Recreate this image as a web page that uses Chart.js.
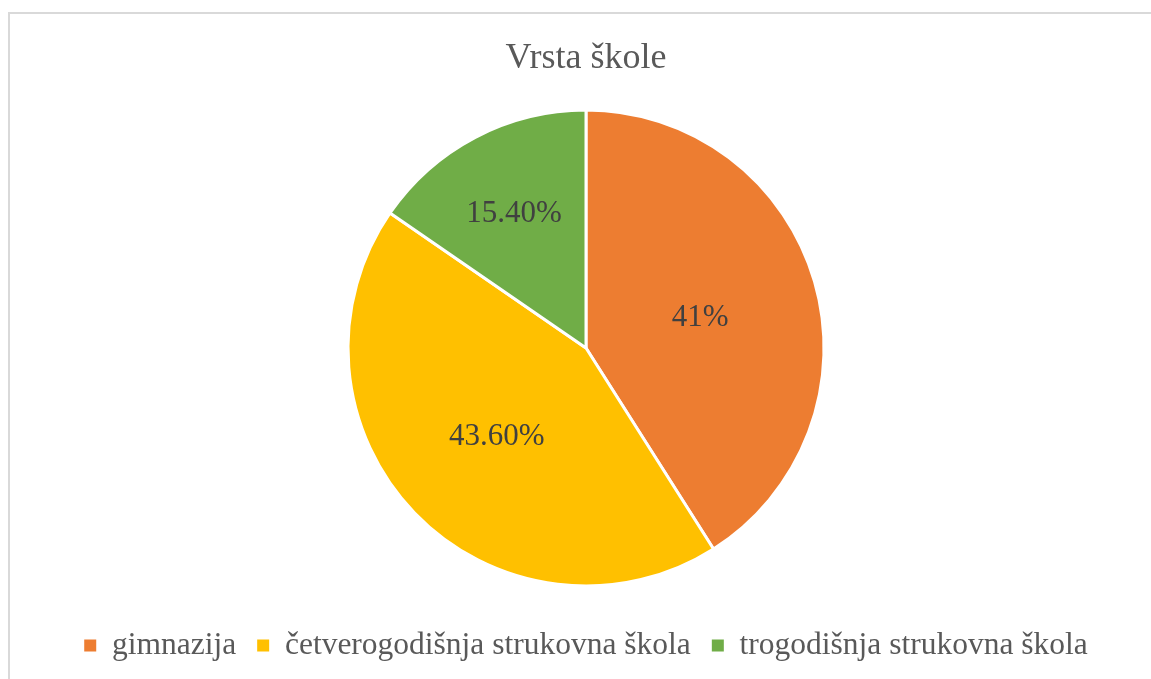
<!DOCTYPE html>
<html>
<head>
<meta charset="utf-8">
<script src="https://cdn.jsdelivr.net/npm/chart.js@4"></script>
<style>
  html, body { margin: 0; padding: 0; background: #ffffff; overflow: hidden; width: 1151px; height: 679px; }
  #box { position: absolute; left: 8px; top: 12px; width: 1152px; height: 700px; border-left: 2px solid #d9d9d9; border-top: 2px solid #d9d9d9; }
  #wrap { position: absolute; left: 0; top: 0; width: 1152px; height: 665px; }
</style>
</head>
<body>
<div id="box"><div id="wrap"><canvas id="c"></canvas></div></div>
<script>
const categories = ["gimnazija", "četverogodišnja strukovna škola", "trogodišnja strukovna škola"];
const values = [41, 43.6, 15.4];
const valueLabels = ["41%", "43.60%", "15.40%"];
const titleText = "Vrsta škole";

const sliceColors = ["#ED7D31", "#FFC000", "#70AD47"];
const labelRadiusFraction = [0.5, 0.52, 0.65];

const dataLabelPlugin = {
  id: 'dataLabels',
  afterDatasetsDraw(chart) {
    const ctx = chart.ctx;
    const meta = chart.getDatasetMeta(0);
    ctx.save();
    ctx.font = '31px "Liberation Serif", "Times New Roman", serif';
    ctx.fillStyle = '#404040';
    ctx.textAlign = 'center';
    ctx.textBaseline = 'middle';
    meta.data.forEach((arc, i) => {
      const p = arc.getProps(['x', 'y', 'startAngle', 'endAngle', 'outerRadius'], true);
      const mid = (p.startAngle + p.endAngle) / 2;
      const r = p.outerRadius * labelRadiusFraction[i];
      ctx.fillText(valueLabels[i], p.x + Math.cos(mid) * r, p.y + Math.sin(mid) * r + 3);
    });
    ctx.restore();
  }
};

new Chart(document.getElementById('c'), {
  type: 'pie',
  data: {
    labels: categories,
    datasets: [{
      data: values,
      backgroundColor: sliceColors,
      borderColor: '#ffffff',
      borderWidth: 3,
      radius: 238
    }]
  },
  options: {
    responsive: true,
    maintainAspectRatio: false,
    animation: false,
    layout: { padding: { top: 0, bottom: 7.75, left: 0, right: 0 } },
    plugins: {
      tooltip: { enabled: false },
      title: {
        display: true,
        text: titleText,
        color: '#595959',
        font: { family: '"Liberation Serif", "Times New Roman", serif', size: 36, weight: 'normal', lineHeight: 1.2 },
        padding: { top: 23.4, bottom: 6.65 }
      },
      legend: {
        display: true,
        position: 'bottom',
        labels: {
          color: '#595959',
          font: { family: '"Liberation Serif", "Times New Roman", serif', size: 31.5 },
          boxWidth: 12,
          boxHeight: 12,
          padding: 21,
          generateLabels(chart) {
            const items = Chart.overrides.pie.plugins.legend.labels.generateLabels(chart);
            items.forEach(it => { it.lineWidth = 0; it.strokeStyle = 'rgba(0,0,0,0)'; });
            return items;
          }
        }
      }
    }
  },
  plugins: [dataLabelPlugin]
});
</script>
</body>
</html>
